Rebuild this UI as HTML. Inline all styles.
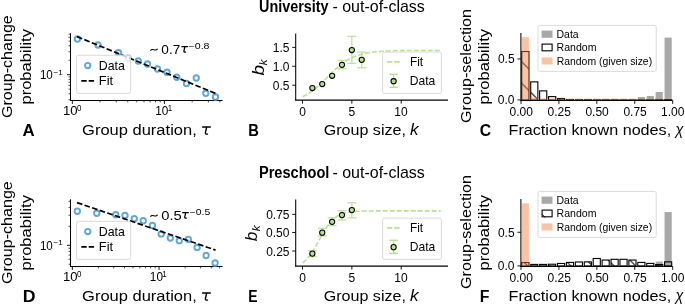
<!DOCTYPE html>
<html><head><meta charset="utf-8"><style>
html,body{margin:0;padding:0;background:#fff;}
body{width:685px;height:306px;overflow:hidden;font-family:"Liberation Sans", sans-serif;}
svg{display:block;}
.g{will-change:transform;}
</style></head><body>
<svg class="g" width="685" height="306" viewBox="0 0 685 306" font-family='"Liberation Sans", sans-serif'><defs><pattern id="hatch1" patternUnits="userSpaceOnUse" x="0" y="0" width="21.6" height="21.6"><path d="M-1.00,14.20 L7.40,22.60 M5.40,-1.00 L22.60,16.20" stroke="#000" stroke-width="1.0" fill="none"/></pattern><pattern id="hatch2" patternUnits="userSpaceOnUse" x="0" y="0" width="21.6" height="21.6"><path d="M-1.00,18.00 L3.60,22.60 M1.60,-1.00 L22.60,20.00" stroke="#000" stroke-width="1.0" fill="none"/></pattern></defs>
<text x="259.04" y="12.30" font-size="15.6" font-weight="bold" textLength="69.44" lengthAdjust="spacingAndGlyphs">University</text>
<text x="332.48" y="12.30" font-size="15.7" textLength="92.37" lengthAdjust="spacingAndGlyphs">- out-of-class</text>
<text x="258.95" y="178.30" font-size="15.6" font-weight="bold" textLength="70.47" lengthAdjust="spacingAndGlyphs">Preschool</text>
<text x="332.48" y="178.30" font-size="15.7" textLength="92.37" lengthAdjust="spacingAndGlyphs">- out-of-class</text>
<line x1="72.35" y1="100.40" x2="72.35" y2="103.90" stroke="#000" stroke-width="0.9" />
<line x1="100.07" y1="100.40" x2="100.07" y2="102.40" stroke="#000" stroke-width="0.7" />
<line x1="116.29" y1="100.40" x2="116.29" y2="102.40" stroke="#000" stroke-width="0.7" />
<line x1="127.80" y1="100.40" x2="127.80" y2="102.40" stroke="#000" stroke-width="0.7" />
<line x1="136.73" y1="100.40" x2="136.73" y2="102.40" stroke="#000" stroke-width="0.7" />
<line x1="144.02" y1="100.40" x2="144.02" y2="102.40" stroke="#000" stroke-width="0.7" />
<line x1="150.18" y1="100.40" x2="150.18" y2="102.40" stroke="#000" stroke-width="0.7" />
<line x1="155.52" y1="100.40" x2="155.52" y2="102.40" stroke="#000" stroke-width="0.7" />
<line x1="160.24" y1="100.40" x2="160.24" y2="102.40" stroke="#000" stroke-width="0.7" />
<line x1="164.45" y1="100.40" x2="164.45" y2="103.90" stroke="#000" stroke-width="0.9" />
<line x1="192.17" y1="100.40" x2="192.17" y2="102.40" stroke="#000" stroke-width="0.7" />
<line x1="208.39" y1="100.40" x2="208.39" y2="102.40" stroke="#000" stroke-width="0.7" />
<line x1="219.90" y1="100.40" x2="219.90" y2="102.40" stroke="#000" stroke-width="0.7" />
<line x1="68.50" y1="99.80" x2="70.50" y2="99.80" stroke="#000" stroke-width="0.7" />
<line x1="68.50" y1="93.80" x2="70.50" y2="93.80" stroke="#000" stroke-width="0.7" />
<line x1="68.50" y1="89.15" x2="70.50" y2="89.15" stroke="#000" stroke-width="0.7" />
<line x1="68.50" y1="85.35" x2="70.50" y2="85.35" stroke="#000" stroke-width="0.7" />
<line x1="68.50" y1="82.14" x2="70.50" y2="82.14" stroke="#000" stroke-width="0.7" />
<line x1="68.50" y1="79.35" x2="70.50" y2="79.35" stroke="#000" stroke-width="0.7" />
<line x1="68.50" y1="76.90" x2="70.50" y2="76.90" stroke="#000" stroke-width="0.7" />
<line x1="67.00" y1="74.70" x2="70.50" y2="74.70" stroke="#000" stroke-width="0.9" />
<line x1="68.50" y1="60.25" x2="70.50" y2="60.25" stroke="#000" stroke-width="0.7" />
<line x1="68.50" y1="51.80" x2="70.50" y2="51.80" stroke="#000" stroke-width="0.7" />
<line x1="68.50" y1="45.80" x2="70.50" y2="45.80" stroke="#000" stroke-width="0.7" />
<line x1="68.50" y1="41.15" x2="70.50" y2="41.15" stroke="#000" stroke-width="0.7" />
<line x1="68.50" y1="37.35" x2="70.50" y2="37.35" stroke="#000" stroke-width="0.7" />
<line x1="68.50" y1="34.14" x2="70.50" y2="34.14" stroke="#000" stroke-width="0.7" />
<line x1="70.50" y1="33.30" x2="70.50" y2="100.90" stroke="#000" stroke-width="1.05" />
<line x1="70.00" y1="100.40" x2="222.60" y2="100.40" stroke="#000" stroke-width="1.05" />
<text x="63.02" y="115.40" font-size="12" textLength="14.57" lengthAdjust="spacingAndGlyphs">10</text>
<text x="76.98" y="111.40" font-size="8.4" textLength="4.40" lengthAdjust="spacingAndGlyphs">0</text>
<text x="155.26" y="115.40" font-size="12" textLength="13.13" lengthAdjust="spacingAndGlyphs">10</text>
<text x="167.76" y="111.40" font-size="8.4" textLength="4.35" lengthAdjust="spacingAndGlyphs">1</text>
<text x="39.93" y="79.20" font-size="12" textLength="12.90" lengthAdjust="spacingAndGlyphs">10</text>
<text x="53.60" y="74.60" font-size="8.0" textLength="9.16" lengthAdjust="spacingAndGlyphs">−1</text>
<circle cx="77.40" cy="39.00" r="2.70" fill="none" stroke="#60a6d8" stroke-width="1.9" />
<circle cx="98.00" cy="45.00" r="2.70" fill="none" stroke="#60a6d8" stroke-width="1.9" />
<circle cx="118.50" cy="52.75" r="2.70" fill="none" stroke="#60a6d8" stroke-width="1.9" />
<circle cx="128.00" cy="58.25" r="2.70" fill="none" stroke="#60a6d8" stroke-width="1.9" />
<circle cx="138.25" cy="61.00" r="2.70" fill="none" stroke="#60a6d8" stroke-width="1.9" />
<circle cx="147.50" cy="64.00" r="2.70" fill="none" stroke="#60a6d8" stroke-width="1.9" />
<circle cx="157.50" cy="69.00" r="2.70" fill="none" stroke="#60a6d8" stroke-width="1.9" />
<circle cx="167.00" cy="72.25" r="2.70" fill="none" stroke="#60a6d8" stroke-width="1.9" />
<circle cx="176.75" cy="77.25" r="2.70" fill="none" stroke="#60a6d8" stroke-width="1.9" />
<circle cx="186.50" cy="83.50" r="2.70" fill="none" stroke="#60a6d8" stroke-width="1.9" />
<circle cx="196.25" cy="78.00" r="2.70" fill="none" stroke="#60a6d8" stroke-width="1.9" />
<circle cx="205.75" cy="93.25" r="2.70" fill="none" stroke="#60a6d8" stroke-width="1.9" />
<circle cx="215.50" cy="97.00" r="2.70" fill="none" stroke="#60a6d8" stroke-width="1.9" />
<line x1="77.00" y1="36.60" x2="215.50" y2="93.40" stroke="#000" stroke-width="1.7" stroke-dasharray="5.6,2.4"/>
<rect x="76.60" y="55.30" width="54.00" height="38.10" rx="1.8" fill="#fff" fill-opacity="0.8" stroke="#d6d6d6" stroke-width="0.9"/>
<circle cx="87.75" cy="65.60" r="2.70" fill="none" stroke="#60a6d8" stroke-width="1.9" />
<text x="98.71" y="69.70" font-size="12.1" textLength="26.12" lengthAdjust="spacingAndGlyphs">Data</text>
<line x1="81.30" y1="80.80" x2="94.10" y2="80.80" stroke="#000" stroke-width="1.7" stroke-dasharray="5.4,2.0"/>
<text x="98.87" y="85.30" font-size="12.1" textLength="14.31" lengthAdjust="spacingAndGlyphs">Fit</text>
<path d="M150.4,50.70 C152.4,47.40 155.6,52.40 157.6,48.70" fill="none" stroke="#000" stroke-width="1.05"/>
<text x="161.36" y="53.70" font-size="12.3" textLength="18.93" lengthAdjust="spacingAndGlyphs">0.7</text>
<path d="M181.40,46.70 L188.01,46.70 M184.82,46.70 C184.59,48.68 183.91,50.42 183.91,51.26 C183.91,52.17 185.05,52.32 185.88,51.94" fill="none" stroke="#000" stroke-width="1.3" stroke-linecap="butt"/>
<text x="188.57" y="48.50" font-size="8.4" textLength="20.95" lengthAdjust="spacingAndGlyphs">−0.8</text>
<text x="82.07" y="135.10" font-size="15.5" textLength="114.69" lengthAdjust="spacingAndGlyphs">Group duration,</text>
<path d="M202.10,127.00 L210.80,127.00 M206.60,127.00 C206.30,129.60 205.40,131.90 205.40,133.00 C205.40,134.20 206.90,134.40 208.00,133.90" fill="none" stroke="#000" stroke-width="1.4" stroke-linecap="butt"/>
<text x="22.48" y="136.20" font-size="15.8" font-weight="bold" textLength="12.18" lengthAdjust="spacingAndGlyphs">A</text>
<text x="12.50" y="118.10" transform="rotate(-90 12.50 118.10)" font-size="15.5" textLength="102.88" lengthAdjust="spacingAndGlyphs">Group-change</text>
<text x="31.00" y="104.58" transform="rotate(-90 31.00 104.58)" font-size="15.5" textLength="75.55" lengthAdjust="spacingAndGlyphs">probability</text>
<line x1="72.35" y1="266.40" x2="72.35" y2="269.90" stroke="#000" stroke-width="0.9" />
<line x1="98.45" y1="266.40" x2="98.45" y2="268.40" stroke="#000" stroke-width="0.7" />
<line x1="113.72" y1="266.40" x2="113.72" y2="268.40" stroke="#000" stroke-width="0.7" />
<line x1="124.55" y1="266.40" x2="124.55" y2="268.40" stroke="#000" stroke-width="0.7" />
<line x1="132.95" y1="266.40" x2="132.95" y2="268.40" stroke="#000" stroke-width="0.7" />
<line x1="139.82" y1="266.40" x2="139.82" y2="268.40" stroke="#000" stroke-width="0.7" />
<line x1="145.62" y1="266.40" x2="145.62" y2="268.40" stroke="#000" stroke-width="0.7" />
<line x1="150.65" y1="266.40" x2="150.65" y2="268.40" stroke="#000" stroke-width="0.7" />
<line x1="155.08" y1="266.40" x2="155.08" y2="268.40" stroke="#000" stroke-width="0.7" />
<line x1="159.05" y1="266.40" x2="159.05" y2="269.90" stroke="#000" stroke-width="0.9" />
<line x1="185.15" y1="266.40" x2="185.15" y2="268.40" stroke="#000" stroke-width="0.7" />
<line x1="200.42" y1="266.40" x2="200.42" y2="268.40" stroke="#000" stroke-width="0.7" />
<line x1="211.25" y1="266.40" x2="211.25" y2="268.40" stroke="#000" stroke-width="0.7" />
<line x1="219.65" y1="266.40" x2="219.65" y2="268.40" stroke="#000" stroke-width="0.7" />
<line x1="68.50" y1="264.26" x2="70.50" y2="264.26" stroke="#000" stroke-width="0.7" />
<line x1="68.50" y1="259.28" x2="70.50" y2="259.28" stroke="#000" stroke-width="0.7" />
<line x1="68.50" y1="255.06" x2="70.50" y2="255.06" stroke="#000" stroke-width="0.7" />
<line x1="68.50" y1="251.41" x2="70.50" y2="251.41" stroke="#000" stroke-width="0.7" />
<line x1="68.50" y1="248.18" x2="70.50" y2="248.18" stroke="#000" stroke-width="0.7" />
<line x1="67.00" y1="245.30" x2="70.50" y2="245.30" stroke="#000" stroke-width="0.9" />
<line x1="68.50" y1="226.34" x2="70.50" y2="226.34" stroke="#000" stroke-width="0.7" />
<line x1="68.50" y1="215.24" x2="70.50" y2="215.24" stroke="#000" stroke-width="0.7" />
<line x1="68.50" y1="207.37" x2="70.50" y2="207.37" stroke="#000" stroke-width="0.7" />
<line x1="68.50" y1="201.26" x2="70.50" y2="201.26" stroke="#000" stroke-width="0.7" />
<line x1="70.50" y1="199.30" x2="70.50" y2="266.90" stroke="#000" stroke-width="1.05" />
<line x1="70.00" y1="266.40" x2="222.60" y2="266.40" stroke="#000" stroke-width="1.05" />
<text x="63.02" y="281.40" font-size="12" textLength="14.57" lengthAdjust="spacingAndGlyphs">10</text>
<text x="76.98" y="277.40" font-size="8.4" textLength="4.40" lengthAdjust="spacingAndGlyphs">0</text>
<text x="149.87" y="281.40" font-size="12" textLength="13.13" lengthAdjust="spacingAndGlyphs">10</text>
<text x="162.36" y="277.40" font-size="8.4" textLength="4.35" lengthAdjust="spacingAndGlyphs">1</text>
<text x="39.93" y="249.80" font-size="12" textLength="12.90" lengthAdjust="spacingAndGlyphs">10</text>
<text x="53.60" y="245.20" font-size="8.0" textLength="9.16" lengthAdjust="spacingAndGlyphs">−1</text>
<circle cx="77.30" cy="211.25" r="2.70" fill="none" stroke="#60a6d8" stroke-width="1.9" />
<circle cx="96.75" cy="213.25" r="2.70" fill="none" stroke="#60a6d8" stroke-width="1.9" />
<circle cx="115.75" cy="214.75" r="2.70" fill="none" stroke="#60a6d8" stroke-width="1.9" />
<circle cx="125.00" cy="215.50" r="2.70" fill="none" stroke="#60a6d8" stroke-width="1.9" />
<circle cx="134.25" cy="218.75" r="2.70" fill="none" stroke="#60a6d8" stroke-width="1.9" />
<circle cx="143.25" cy="220.75" r="2.70" fill="none" stroke="#60a6d8" stroke-width="1.9" />
<circle cx="152.40" cy="225.50" r="2.70" fill="none" stroke="#60a6d8" stroke-width="1.9" />
<circle cx="161.20" cy="233.90" r="2.70" fill="none" stroke="#60a6d8" stroke-width="1.9" />
<circle cx="170.30" cy="238.00" r="2.70" fill="none" stroke="#60a6d8" stroke-width="1.9" />
<circle cx="179.30" cy="240.70" r="2.70" fill="none" stroke="#60a6d8" stroke-width="1.9" />
<circle cx="188.30" cy="239.30" r="2.70" fill="none" stroke="#60a6d8" stroke-width="1.9" />
<circle cx="197.10" cy="247.40" r="2.70" fill="none" stroke="#60a6d8" stroke-width="1.9" />
<circle cx="206.10" cy="255.50" r="2.70" fill="none" stroke="#60a6d8" stroke-width="1.9" />
<circle cx="215.10" cy="263.00" r="2.70" fill="none" stroke="#60a6d8" stroke-width="1.9" />
<line x1="77.00" y1="202.60" x2="215.60" y2="250.10" stroke="#000" stroke-width="1.7" stroke-dasharray="5.6,2.4"/>
<rect x="76.60" y="221.30" width="54.00" height="38.10" rx="1.8" fill="#fff" fill-opacity="0.8" stroke="#d6d6d6" stroke-width="0.9"/>
<circle cx="87.75" cy="231.60" r="2.70" fill="none" stroke="#60a6d8" stroke-width="1.9" />
<text x="98.71" y="235.70" font-size="12.1" textLength="26.12" lengthAdjust="spacingAndGlyphs">Data</text>
<line x1="81.30" y1="246.80" x2="94.10" y2="246.80" stroke="#000" stroke-width="1.7" stroke-dasharray="5.4,2.0"/>
<text x="98.87" y="251.30" font-size="12.1" textLength="14.31" lengthAdjust="spacingAndGlyphs">Fit</text>
<path d="M150.4,216.70 C152.4,213.40 155.6,218.40 157.6,214.70" fill="none" stroke="#000" stroke-width="1.05"/>
<text x="161.31" y="219.70" font-size="12.3" textLength="20.48" lengthAdjust="spacingAndGlyphs">0.5</text>
<path d="M182.20,212.70 L188.81,212.70 M185.62,212.70 C185.39,214.68 184.71,216.42 184.71,217.26 C184.71,218.17 185.85,218.32 186.68,217.94" fill="none" stroke="#000" stroke-width="1.3" stroke-linecap="butt"/>
<text x="189.78" y="214.50" font-size="8.4" textLength="20.53" lengthAdjust="spacingAndGlyphs">−0.5</text>
<text x="82.07" y="301.10" font-size="15.5" textLength="114.69" lengthAdjust="spacingAndGlyphs">Group duration,</text>
<path d="M202.10,293.00 L210.80,293.00 M206.60,293.00 C206.30,295.60 205.40,297.90 205.40,299.00 C205.40,300.20 206.90,300.40 208.00,299.90" fill="none" stroke="#000" stroke-width="1.4" stroke-linecap="butt"/>
<text x="22.65" y="302.20" font-size="15.8" font-weight="bold" textLength="12.80" lengthAdjust="spacingAndGlyphs">D</text>
<text x="12.50" y="284.10" transform="rotate(-90 12.50 284.10)" font-size="15.5" textLength="102.88" lengthAdjust="spacingAndGlyphs">Group-change</text>
<text x="31.00" y="270.58" transform="rotate(-90 31.00 270.58)" font-size="15.5" textLength="75.55" lengthAdjust="spacingAndGlyphs">probability</text>
<line x1="302.50" y1="100.10" x2="302.50" y2="103.60" stroke="#000" stroke-width="0.9" />
<line x1="351.85" y1="100.10" x2="351.85" y2="103.60" stroke="#000" stroke-width="0.9" />
<line x1="401.20" y1="100.10" x2="401.20" y2="103.60" stroke="#000" stroke-width="0.9" />
<line x1="292.20" y1="85.20" x2="295.70" y2="85.20" stroke="#000" stroke-width="0.9" />
<line x1="292.20" y1="66.30" x2="295.70" y2="66.30" stroke="#000" stroke-width="0.9" />
<line x1="292.20" y1="47.40" x2="295.70" y2="47.40" stroke="#000" stroke-width="0.9" />
<line x1="295.70" y1="33.40" x2="295.70" y2="100.60" stroke="#000" stroke-width="1.05" />
<line x1="295.20" y1="100.10" x2="448.00" y2="100.10" stroke="#000" stroke-width="1.05" />
<text x="299.14" y="115.50" font-size="12">0</text>
<text x="348.52" y="115.50" font-size="12">5</text>
<text x="394.30" y="115.50" font-size="12">10</text>
<text x="272.80" y="89.80" font-size="12">0.5</text>
<text x="272.74" y="70.90" font-size="12">1.0</text>
<text x="272.80" y="52.00" font-size="12">1.5</text>
<path d="M302.60,96.81 L304.57,95.82 L306.55,94.73 L308.52,93.53 L310.50,92.22 L312.47,90.80 L314.44,89.26 L316.42,87.62 L318.39,85.88 L320.37,84.06 L322.34,82.17 L324.31,80.23 L326.29,78.25 L328.26,76.27 L330.24,74.30 L332.21,72.35 L334.18,70.46 L336.16,68.64 L338.13,66.90 L340.11,65.26 L342.08,63.73 L344.05,62.30 L346.03,60.99 L348.00,59.79 L349.98,58.70 L351.95,57.72 L353.92,56.83 L355.90,56.04 L357.87,55.34 L359.85,54.72 L361.82,54.17 L363.79,53.69 L365.77,53.26 L367.74,52.89 L369.72,52.56 L371.69,52.28 L373.66,52.03 L375.64,51.82 L377.61,51.63 L379.59,51.47 L381.56,51.33 L383.53,51.20 L385.51,51.10 L387.48,51.01 L389.46,50.93 L391.43,50.86 L393.40,50.80 L395.38,50.75 L397.35,50.70 L399.33,50.66 L401.30,50.63 L403.27,50.60 L405.25,50.58 L407.22,50.56 L409.20,50.54 L411.17,50.52 L413.14,50.51 L415.12,50.50 L417.09,50.49 L419.07,50.48 L421.04,50.47 L423.01,50.46 L424.99,50.46 L426.96,50.45 L428.94,50.45 L430.91,50.45 L432.88,50.44 L434.86,50.44 L436.83,50.44 L438.81,50.44 L440.78,50.43" fill="none" stroke="#b2df8a" stroke-opacity="0.9" stroke-width="1.6" stroke-dasharray="5,2"/>
<line x1="341.98" y1="60.40" x2="341.98" y2="68.80" stroke="#b2df8a" stroke-width="1.3" stroke-opacity="0.85"/>
<line x1="337.48" y1="60.40" x2="346.48" y2="60.40" stroke="#b2df8a" stroke-width="1.3" stroke-opacity="0.85"/>
<line x1="337.48" y1="68.80" x2="346.48" y2="68.80" stroke="#b2df8a" stroke-width="1.3" stroke-opacity="0.85"/>
<line x1="351.85" y1="36.40" x2="351.85" y2="63.40" stroke="#b2df8a" stroke-width="1.3" stroke-opacity="0.85"/>
<line x1="347.35" y1="36.40" x2="356.35" y2="36.40" stroke="#b2df8a" stroke-width="1.3" stroke-opacity="0.85"/>
<line x1="347.35" y1="63.40" x2="356.35" y2="63.40" stroke="#b2df8a" stroke-width="1.3" stroke-opacity="0.85"/>
<line x1="361.72" y1="52.00" x2="361.72" y2="67.80" stroke="#b2df8a" stroke-width="1.3" stroke-opacity="0.85"/>
<line x1="357.22" y1="52.00" x2="366.22" y2="52.00" stroke="#b2df8a" stroke-width="1.3" stroke-opacity="0.85"/>
<line x1="357.22" y1="67.80" x2="366.22" y2="67.80" stroke="#b2df8a" stroke-width="1.3" stroke-opacity="0.85"/>
<circle cx="312.37" cy="88.00" r="2.60" fill="#b6e291" stroke="#000" stroke-width="1.05" />
<circle cx="322.24" cy="84.00" r="2.60" fill="#b6e291" stroke="#000" stroke-width="1.05" />
<circle cx="332.11" cy="75.75" r="2.60" fill="#b6e291" stroke="#000" stroke-width="1.05" />
<circle cx="341.98" cy="64.80" r="2.60" fill="#b6e291" stroke="#000" stroke-width="1.05" />
<circle cx="351.85" cy="50.00" r="2.60" fill="#b6e291" stroke="#000" stroke-width="1.05" />
<circle cx="361.72" cy="59.80" r="2.60" fill="#b6e291" stroke="#000" stroke-width="1.05" />
<rect x="382.60" y="52.10" width="58.80" height="41.30" rx="1.8" fill="#fff" fill-opacity="0.8" stroke="#d6d6d6" stroke-width="0.9"/>
<line x1="387.00" y1="61.90" x2="399.80" y2="61.90" stroke="#b2df8a" stroke-width="1.6" stroke-dasharray="5.3,1.9" stroke-opacity="0.9"/>
<text x="409.96" y="65.60" font-size="12.1" textLength="13.11" lengthAdjust="spacingAndGlyphs">Fit</text>
<line x1="393.60" y1="74.30" x2="393.60" y2="87.30" stroke="#b2df8a" stroke-width="1.3" />
<line x1="389.30" y1="74.30" x2="397.90" y2="74.30" stroke="#b2df8a" stroke-width="1.3" />
<line x1="389.30" y1="87.30" x2="397.90" y2="87.30" stroke="#b2df8a" stroke-width="1.3" />
<circle cx="393.60" cy="81.20" r="2.60" fill="#b6e291" stroke="#000" stroke-width="1.05" />
<text x="409.73" y="85.30" font-size="12.1" textLength="25.49" lengthAdjust="spacingAndGlyphs">Data</text>
<text x="323.70" y="135.40" font-size="15.5" textLength="82.22" lengthAdjust="spacingAndGlyphs">Group size,</text>
<text x="409.94" y="135.30" font-size="16.5" font-style="italic" textLength="8.57" lengthAdjust="spacingAndGlyphs">k</text>
<text x="248.14" y="136.20" font-size="15.8" font-weight="bold" textLength="10.66" lengthAdjust="spacingAndGlyphs">B</text>
<text x="264.00" y="75.59" transform="rotate(-90 264.00 75.59)" font-size="16.8" font-style="italic" textLength="10.58" lengthAdjust="spacingAndGlyphs">b</text>
<text x="266.60" y="65.27" transform="rotate(-90 266.60 65.27)" font-size="11.6" font-style="italic" textLength="5.81" lengthAdjust="spacingAndGlyphs">k</text>
<line x1="302.50" y1="266.10" x2="302.50" y2="269.60" stroke="#000" stroke-width="0.9" />
<line x1="351.85" y1="266.10" x2="351.85" y2="269.60" stroke="#000" stroke-width="0.9" />
<line x1="401.20" y1="266.10" x2="401.20" y2="269.60" stroke="#000" stroke-width="0.9" />
<line x1="292.20" y1="251.00" x2="295.70" y2="251.00" stroke="#000" stroke-width="0.9" />
<line x1="292.20" y1="232.50" x2="295.70" y2="232.50" stroke="#000" stroke-width="0.9" />
<line x1="292.20" y1="214.40" x2="295.70" y2="214.40" stroke="#000" stroke-width="0.9" />
<line x1="295.70" y1="199.40" x2="295.70" y2="266.60" stroke="#000" stroke-width="1.05" />
<line x1="295.20" y1="266.10" x2="448.00" y2="266.10" stroke="#000" stroke-width="1.05" />
<text x="299.14" y="281.50" font-size="12">0</text>
<text x="348.52" y="281.50" font-size="12">5</text>
<text x="394.30" y="281.50" font-size="12">10</text>
<text x="266.14" y="255.60" font-size="12">0.25</text>
<text x="266.08" y="237.10" font-size="12">0.50</text>
<text x="266.14" y="219.00" font-size="12">0.75</text>
<path d="M302.60,262.88 L304.57,261.32 L306.55,259.44 L308.52,257.23 L310.50,254.67 L312.47,251.76 L314.44,248.56 L316.42,245.11 L318.39,241.51 L320.37,237.86 L322.34,234.29 L324.31,230.88 L326.29,227.73 L328.26,224.89 L330.24,222.40 L332.21,220.26 L334.18,218.45 L336.16,216.94 L338.13,215.71 L340.11,214.70 L342.08,213.90 L344.05,213.25 L346.03,212.74 L348.00,212.33 L349.98,212.01 L351.95,211.76 L353.92,211.56 L355.90,211.40 L357.87,211.28 L359.85,211.19 L361.82,211.11 L363.79,211.05 L365.77,211.01 L367.74,210.97 L369.72,210.95 L371.69,210.93 L373.66,210.91 L375.64,210.90 L377.61,210.89 L379.59,210.88 L381.56,210.87 L383.53,210.87 L385.51,210.86 L387.48,210.86 L389.46,210.86 L391.43,210.86 L393.40,210.85 L395.38,210.85 L397.35,210.85 L399.33,210.85 L401.30,210.85 L403.27,210.85 L405.25,210.85 L407.22,210.85 L409.20,210.85 L411.17,210.85 L413.14,210.85 L415.12,210.85 L417.09,210.85 L419.07,210.85 L421.04,210.85 L423.01,210.85 L424.99,210.85 L426.96,210.85 L428.94,210.85 L430.91,210.85 L432.88,210.85 L434.86,210.85 L436.83,210.85 L438.81,210.85 L440.78,210.85" fill="none" stroke="#b2df8a" stroke-opacity="0.9" stroke-width="1.6" stroke-dasharray="5,2"/>
<line x1="312.37" y1="250.80" x2="312.37" y2="256.60" stroke="#b2df8a" stroke-width="1.3" stroke-opacity="0.85"/>
<line x1="307.87" y1="250.80" x2="316.87" y2="250.80" stroke="#b2df8a" stroke-width="1.3" stroke-opacity="0.85"/>
<line x1="307.87" y1="256.60" x2="316.87" y2="256.60" stroke="#b2df8a" stroke-width="1.3" stroke-opacity="0.85"/>
<line x1="322.24" y1="228.40" x2="322.24" y2="236.00" stroke="#b2df8a" stroke-width="1.3" stroke-opacity="0.85"/>
<line x1="317.74" y1="228.40" x2="326.74" y2="228.40" stroke="#b2df8a" stroke-width="1.3" stroke-opacity="0.85"/>
<line x1="317.74" y1="236.00" x2="326.74" y2="236.00" stroke="#b2df8a" stroke-width="1.3" stroke-opacity="0.85"/>
<line x1="332.11" y1="217.80" x2="332.11" y2="225.60" stroke="#b2df8a" stroke-width="1.3" stroke-opacity="0.85"/>
<line x1="327.61" y1="217.80" x2="336.61" y2="217.80" stroke="#b2df8a" stroke-width="1.3" stroke-opacity="0.85"/>
<line x1="327.61" y1="225.60" x2="336.61" y2="225.60" stroke="#b2df8a" stroke-width="1.3" stroke-opacity="0.85"/>
<line x1="341.98" y1="210.70" x2="341.98" y2="220.00" stroke="#b2df8a" stroke-width="1.3" stroke-opacity="0.85"/>
<line x1="337.48" y1="210.70" x2="346.48" y2="210.70" stroke="#b2df8a" stroke-width="1.3" stroke-opacity="0.85"/>
<line x1="337.48" y1="220.00" x2="346.48" y2="220.00" stroke="#b2df8a" stroke-width="1.3" stroke-opacity="0.85"/>
<line x1="351.85" y1="202.70" x2="351.85" y2="217.80" stroke="#b2df8a" stroke-width="1.3" stroke-opacity="0.85"/>
<line x1="347.35" y1="202.70" x2="356.35" y2="202.70" stroke="#b2df8a" stroke-width="1.3" stroke-opacity="0.85"/>
<line x1="347.35" y1="217.80" x2="356.35" y2="217.80" stroke="#b2df8a" stroke-width="1.3" stroke-opacity="0.85"/>
<circle cx="312.37" cy="253.60" r="2.60" fill="#b6e291" stroke="#000" stroke-width="1.05" />
<circle cx="322.24" cy="232.70" r="2.60" fill="#b6e291" stroke="#000" stroke-width="1.05" />
<circle cx="332.11" cy="221.80" r="2.60" fill="#b6e291" stroke="#000" stroke-width="1.05" />
<circle cx="341.98" cy="215.10" r="2.60" fill="#b6e291" stroke="#000" stroke-width="1.05" />
<circle cx="351.85" cy="210.10" r="2.60" fill="#b6e291" stroke="#000" stroke-width="1.05" />
<rect x="382.60" y="218.10" width="58.80" height="41.30" rx="1.8" fill="#fff" fill-opacity="0.8" stroke="#d6d6d6" stroke-width="0.9"/>
<line x1="387.00" y1="227.90" x2="399.80" y2="227.90" stroke="#b2df8a" stroke-width="1.6" stroke-dasharray="5.3,1.9" stroke-opacity="0.9"/>
<text x="409.96" y="231.60" font-size="12.1" textLength="13.11" lengthAdjust="spacingAndGlyphs">Fit</text>
<line x1="393.60" y1="240.30" x2="393.60" y2="253.30" stroke="#b2df8a" stroke-width="1.3" />
<line x1="389.30" y1="240.30" x2="397.90" y2="240.30" stroke="#b2df8a" stroke-width="1.3" />
<line x1="389.30" y1="253.30" x2="397.90" y2="253.30" stroke="#b2df8a" stroke-width="1.3" />
<circle cx="393.60" cy="247.20" r="2.60" fill="#b6e291" stroke="#000" stroke-width="1.05" />
<text x="409.73" y="251.30" font-size="12.1" textLength="25.49" lengthAdjust="spacingAndGlyphs">Data</text>
<text x="323.70" y="301.40" font-size="15.5" textLength="82.22" lengthAdjust="spacingAndGlyphs">Group size,</text>
<text x="409.94" y="301.30" font-size="16.5" font-style="italic" textLength="8.57" lengthAdjust="spacingAndGlyphs">k</text>
<text x="248.29" y="302.20" font-size="15.8" font-weight="bold" textLength="9.33" lengthAdjust="spacingAndGlyphs">E</text>
<text x="256.80" y="241.36" transform="rotate(-90 256.80 241.36)" font-size="16.8" font-style="italic" textLength="9.60" lengthAdjust="spacingAndGlyphs">b</text>
<text x="260.00" y="231.28" transform="rotate(-90 260.00 231.28)" font-size="11.6" font-style="italic" textLength="5.90" lengthAdjust="spacingAndGlyphs">k</text>
<rect x="637.80" y="97.03" width="7.14" height="2.87" fill="#a8a8a8" stroke="none" stroke-width="1.0" />
<rect x="646.72" y="95.96" width="7.14" height="3.94" fill="#a8a8a8" stroke="none" stroke-width="1.0" />
<rect x="655.65" y="91.95" width="7.14" height="7.95" fill="#a8a8a8" stroke="none" stroke-width="1.0" />
<rect x="664.57" y="37.58" width="7.14" height="62.32" fill="#a8a8a8" stroke="none" stroke-width="1.0" />
<rect x="521.79" y="51.52" width="7.14" height="48.38" fill="url(#hatch1)" stroke="#000" stroke-width="1.1" />
<rect x="530.72" y="81.86" width="7.14" height="18.04" fill="url(#hatch1)" stroke="#000" stroke-width="1.1" />
<rect x="539.64" y="90.88" width="7.14" height="9.02" fill="url(#hatch1)" stroke="#000" stroke-width="1.1" />
<rect x="548.56" y="96.62" width="7.14" height="3.28" fill="url(#hatch1)" stroke="#000" stroke-width="1.1" />
<rect x="557.49" y="98.51" width="7.14" height="1.39" fill="url(#hatch1)" stroke="#000" stroke-width="1.1" />
<rect x="566.41" y="99.57" width="7.14" height="0.33" fill="url(#hatch1)" stroke="#000" stroke-width="1.1" />
<rect x="575.33" y="99.65" width="7.14" height="0.25" fill="url(#hatch1)" stroke="#000" stroke-width="1.1" />
<rect x="584.26" y="99.65" width="7.14" height="0.25" fill="url(#hatch1)" stroke="#000" stroke-width="1.1" />
<rect x="593.18" y="99.74" width="7.14" height="0.16" fill="url(#hatch1)" stroke="#000" stroke-width="1.1" />
<rect x="602.10" y="99.74" width="7.14" height="0.16" fill="url(#hatch1)" stroke="#000" stroke-width="1.1" />
<rect x="611.03" y="99.74" width="7.14" height="0.16" fill="url(#hatch1)" stroke="#000" stroke-width="1.1" />
<rect x="619.95" y="99.74" width="7.14" height="0.16" fill="url(#hatch1)" stroke="#000" stroke-width="1.1" />
<rect x="628.87" y="99.74" width="7.14" height="0.16" fill="url(#hatch1)" stroke="#000" stroke-width="1.1" />
<rect x="637.80" y="99.74" width="7.14" height="0.16" fill="url(#hatch1)" stroke="#000" stroke-width="1.1" />
<rect x="646.72" y="99.74" width="7.14" height="0.16" fill="url(#hatch1)" stroke="#000" stroke-width="1.1" />
<rect x="655.65" y="99.74" width="7.14" height="0.16" fill="url(#hatch1)" stroke="#000" stroke-width="1.1" />
<rect x="664.57" y="99.74" width="7.14" height="0.16" fill="url(#hatch1)" stroke="#000" stroke-width="1.1" />
<rect x="521.79" y="37.17" width="7.14" height="62.73" fill="#f47a37" stroke="none" stroke-width="1.0" fill-opacity="0.45"/>
<rect x="530.72" y="97.60" width="7.14" height="2.30" fill="#f47a37" stroke="none" stroke-width="1.0" fill-opacity="0.45"/>
<rect x="539.64" y="98.42" width="7.14" height="1.48" fill="#f47a37" stroke="none" stroke-width="1.0" fill-opacity="0.45"/>
<rect x="548.56" y="98.59" width="7.14" height="1.31" fill="#f47a37" stroke="none" stroke-width="1.0" fill-opacity="0.45"/>
<rect x="557.49" y="98.59" width="7.14" height="1.31" fill="#f47a37" stroke="none" stroke-width="1.0" fill-opacity="0.45"/>
<rect x="566.41" y="98.59" width="7.14" height="1.31" fill="#f47a37" stroke="none" stroke-width="1.0" fill-opacity="0.45"/>
<rect x="575.33" y="98.59" width="7.14" height="1.31" fill="#f47a37" stroke="none" stroke-width="1.0" fill-opacity="0.45"/>
<rect x="584.26" y="98.59" width="7.14" height="1.31" fill="#f47a37" stroke="none" stroke-width="1.0" fill-opacity="0.45"/>
<rect x="593.18" y="98.59" width="7.14" height="1.31" fill="#f47a37" stroke="none" stroke-width="1.0" fill-opacity="0.45"/>
<rect x="602.10" y="98.59" width="7.14" height="1.31" fill="#f47a37" stroke="none" stroke-width="1.0" fill-opacity="0.45"/>
<rect x="611.03" y="98.59" width="7.14" height="1.31" fill="#f47a37" stroke="none" stroke-width="1.0" fill-opacity="0.45"/>
<rect x="619.95" y="98.59" width="7.14" height="1.31" fill="#f47a37" stroke="none" stroke-width="1.0" fill-opacity="0.45"/>
<rect x="628.87" y="98.59" width="7.14" height="1.31" fill="#f47a37" stroke="none" stroke-width="1.0" fill-opacity="0.45"/>
<rect x="637.80" y="98.75" width="7.14" height="1.15" fill="#f47a37" stroke="none" stroke-width="1.0" fill-opacity="0.45"/>
<rect x="646.72" y="98.92" width="7.14" height="0.98" fill="#f47a37" stroke="none" stroke-width="1.0" fill-opacity="0.45"/>
<rect x="655.65" y="99.24" width="7.14" height="0.66" fill="#f47a37" stroke="none" stroke-width="1.0" fill-opacity="0.45"/>
<rect x="664.57" y="99.57" width="7.14" height="0.33" fill="#f47a37" stroke="none" stroke-width="1.0" fill-opacity="0.45"/>
<line x1="521.00" y1="100.40" x2="521.00" y2="103.90" stroke="#000" stroke-width="0.9" />
<line x1="558.93" y1="100.40" x2="558.93" y2="103.90" stroke="#000" stroke-width="0.9" />
<line x1="596.85" y1="100.40" x2="596.85" y2="103.90" stroke="#000" stroke-width="0.9" />
<line x1="634.77" y1="100.40" x2="634.77" y2="103.90" stroke="#000" stroke-width="0.9" />
<line x1="672.70" y1="100.40" x2="672.70" y2="103.90" stroke="#000" stroke-width="0.9" />
<line x1="517.40" y1="99.90" x2="520.90" y2="99.90" stroke="#000" stroke-width="0.9" />
<line x1="517.40" y1="58.90" x2="520.90" y2="58.90" stroke="#000" stroke-width="0.9" />
<line x1="520.90" y1="33.10" x2="520.90" y2="100.90" stroke="#000" stroke-width="1.05" />
<line x1="520.40" y1="100.40" x2="672.60" y2="100.40" stroke="#000" stroke-width="1.05" />
<text x="509.60" y="115.90" font-size="12">0.00</text>
<text x="547.56" y="115.90" font-size="12">0.25</text>
<text x="585.45" y="115.90" font-size="12">0.50</text>
<text x="623.40" y="115.90" font-size="12">0.75</text>
<text x="661.09" y="115.90" font-size="12">1.00</text>
<text x="497.84" y="104.20" font-size="12">0.0</text>
<text x="497.90" y="63.20" font-size="12">0.5</text>
<rect x="538.00" y="25.40" width="118.20" height="46.00" rx="1.8" fill="#fff" fill-opacity="0.8" stroke="#d6d6d6" stroke-width="0.9"/>
<rect x="541.60" y="30.60" width="10.90" height="7.20" fill="#a8a8a8" stroke="none" stroke-width="1.0" />
<rect x="542.10" y="44.10" width="10.00" height="6.70" fill="none" stroke="#000" stroke-width="1.1" />
<rect x="541.60" y="57.40" width="10.90" height="7.10" fill="#f47a37" stroke="none" stroke-width="1.0" fill-opacity="0.45"/>
<text x="556.56" y="37.90" font-size="10.1" textLength="22.06" lengthAdjust="spacingAndGlyphs">Data</text>
<text x="556.55" y="51.40" font-size="10.1" textLength="39.93" lengthAdjust="spacingAndGlyphs">Random</text>
<text x="556.77" y="64.50" font-size="10.1" textLength="95.36" lengthAdjust="spacingAndGlyphs">Random (given size)</text>
<text x="508.51" y="134.60" font-size="15.5" textLength="162.69" lengthAdjust="spacingAndGlyphs">Fraction known nodes,</text>
<text x="675.61" y="134.80" font-size="16" font-style="italic" textLength="7.89" lengthAdjust="spacingAndGlyphs">χ</text>
<text x="479.77" y="136.20" font-size="15.8" font-weight="bold" textLength="11.36" lengthAdjust="spacingAndGlyphs">C</text>
<text x="470.60" y="123.01" transform="rotate(-90 470.60 123.01)" font-size="15.5" textLength="114.05" lengthAdjust="spacingAndGlyphs">Group-selection</text>
<text x="489.40" y="104.48" transform="rotate(-90 489.40 104.48)" font-size="15.5" textLength="75.55" lengthAdjust="spacingAndGlyphs">probability</text>
<rect x="655.65" y="261.53" width="7.14" height="4.37" fill="#a8a8a8" stroke="none" stroke-width="1.0" />
<rect x="664.57" y="212.06" width="7.14" height="53.84" fill="#a8a8a8" stroke="none" stroke-width="1.0" />
<rect x="521.79" y="262.53" width="7.14" height="3.37" fill="url(#hatch2)" stroke="#000" stroke-width="1.1" />
<rect x="530.72" y="264.42" width="7.14" height="1.48" fill="url(#hatch2)" stroke="#000" stroke-width="1.1" />
<rect x="539.64" y="264.42" width="7.14" height="1.48" fill="url(#hatch2)" stroke="#000" stroke-width="1.1" />
<rect x="548.56" y="264.22" width="7.14" height="1.68" fill="url(#hatch2)" stroke="#000" stroke-width="1.1" />
<rect x="557.49" y="263.48" width="7.14" height="2.42" fill="url(#hatch2)" stroke="#000" stroke-width="1.1" />
<rect x="566.41" y="262.40" width="7.14" height="3.50" fill="url(#hatch2)" stroke="#000" stroke-width="1.1" />
<rect x="575.33" y="262.00" width="7.14" height="3.90" fill="url(#hatch2)" stroke="#000" stroke-width="1.1" />
<rect x="584.26" y="261.86" width="7.14" height="4.04" fill="url(#hatch2)" stroke="#000" stroke-width="1.1" />
<rect x="593.18" y="258.50" width="7.14" height="7.40" fill="url(#hatch2)" stroke="#000" stroke-width="1.1" />
<rect x="602.10" y="260.04" width="7.14" height="5.86" fill="url(#hatch2)" stroke="#000" stroke-width="1.1" />
<rect x="611.03" y="259.30" width="7.14" height="6.60" fill="url(#hatch2)" stroke="#000" stroke-width="1.1" />
<rect x="619.95" y="259.30" width="7.14" height="6.60" fill="url(#hatch2)" stroke="#000" stroke-width="1.1" />
<rect x="628.87" y="260.04" width="7.14" height="5.86" fill="url(#hatch2)" stroke="#000" stroke-width="1.1" />
<rect x="637.80" y="262.40" width="7.14" height="3.50" fill="url(#hatch2)" stroke="#000" stroke-width="1.1" />
<rect x="646.72" y="263.41" width="7.14" height="2.49" fill="url(#hatch2)" stroke="#000" stroke-width="1.1" />
<rect x="655.65" y="264.55" width="7.14" height="1.35" fill="url(#hatch2)" stroke="#000" stroke-width="1.1" />
<rect x="664.57" y="261.86" width="7.14" height="4.04" fill="url(#hatch2)" stroke="#000" stroke-width="1.1" />
<rect x="521.79" y="203.31" width="7.14" height="62.59" fill="#f47a37" stroke="none" stroke-width="1.0" fill-opacity="0.45"/>
<line x1="521.00" y1="266.40" x2="521.00" y2="269.90" stroke="#000" stroke-width="0.9" />
<line x1="558.93" y1="266.40" x2="558.93" y2="269.90" stroke="#000" stroke-width="0.9" />
<line x1="596.85" y1="266.40" x2="596.85" y2="269.90" stroke="#000" stroke-width="0.9" />
<line x1="634.77" y1="266.40" x2="634.77" y2="269.90" stroke="#000" stroke-width="0.9" />
<line x1="672.70" y1="266.40" x2="672.70" y2="269.90" stroke="#000" stroke-width="0.9" />
<line x1="517.40" y1="265.90" x2="520.90" y2="265.90" stroke="#000" stroke-width="0.9" />
<line x1="517.40" y1="232.25" x2="520.90" y2="232.25" stroke="#000" stroke-width="0.9" />
<line x1="520.90" y1="199.10" x2="520.90" y2="266.90" stroke="#000" stroke-width="1.05" />
<line x1="520.40" y1="266.40" x2="672.60" y2="266.40" stroke="#000" stroke-width="1.05" />
<text x="509.60" y="281.90" font-size="12">0.00</text>
<text x="547.56" y="281.90" font-size="12">0.25</text>
<text x="585.45" y="281.90" font-size="12">0.50</text>
<text x="623.40" y="281.90" font-size="12">0.75</text>
<text x="661.09" y="281.90" font-size="12">1.00</text>
<text x="497.84" y="270.20" font-size="12">0.0</text>
<text x="497.90" y="236.55" font-size="12">0.5</text>
<rect x="538.00" y="191.40" width="118.20" height="46.00" rx="1.8" fill="#fff" fill-opacity="0.8" stroke="#d6d6d6" stroke-width="0.9"/>
<rect x="541.60" y="196.60" width="10.90" height="7.20" fill="#a8a8a8" stroke="none" stroke-width="1.0" />
<rect x="542.10" y="210.10" width="10.00" height="6.70" fill="none" stroke="#000" stroke-width="1.1" />
<line x1="542.10" y1="214.40" x2="545.20" y2="217.40" stroke="#000" stroke-width="1.0" />
<rect x="541.60" y="223.40" width="10.90" height="7.10" fill="#f47a37" stroke="none" stroke-width="1.0" fill-opacity="0.45"/>
<text x="556.56" y="203.90" font-size="10.1" textLength="22.06" lengthAdjust="spacingAndGlyphs">Data</text>
<text x="556.55" y="217.40" font-size="10.1" textLength="39.93" lengthAdjust="spacingAndGlyphs">Random</text>
<text x="556.77" y="230.50" font-size="10.1" textLength="95.36" lengthAdjust="spacingAndGlyphs">Random (given size)</text>
<text x="508.51" y="300.60" font-size="15.5" textLength="162.69" lengthAdjust="spacingAndGlyphs">Fraction known nodes,</text>
<text x="675.61" y="300.80" font-size="16" font-style="italic" textLength="7.89" lengthAdjust="spacingAndGlyphs">χ</text>
<text x="479.67" y="302.20" font-size="15.8" font-weight="bold" textLength="9.70" lengthAdjust="spacingAndGlyphs">F</text>
<text x="470.60" y="289.01" transform="rotate(-90 470.60 289.01)" font-size="15.5" textLength="114.05" lengthAdjust="spacingAndGlyphs">Group-selection</text>
<text x="489.40" y="270.48" transform="rotate(-90 489.40 270.48)" font-size="15.5" textLength="75.55" lengthAdjust="spacingAndGlyphs">probability</text>
</svg>
</body></html>
